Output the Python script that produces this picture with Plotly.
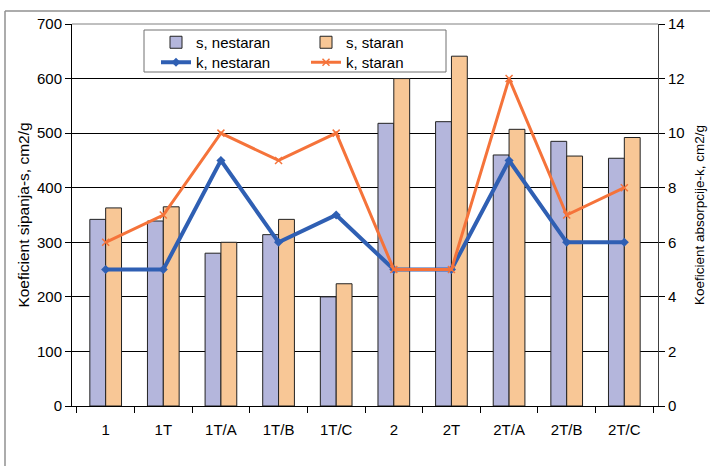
import plotly.graph_objects as go

categories = ["1", "1T", "1T/A", "1T/B", "1T/C", "2", "2T", "2T/A", "2T/B", "2T/C"]
s_nestaran = [342, 339, 280, 314, 200, 518, 521, 460, 485, 454]
s_staran = [363, 365, 300, 342, 224, 600, 641, 507, 458, 492]
k_nestaran = [5, 5, 9, 6, 7, 5, 5, 9, 6, 6]
k_staran = [6, 7, 10, 9, 10, 5, 5, 12, 7, 8]

FONT = "Liberation Sans, Arial, sans-serif"

fig = go.Figure()
fig.add_trace(go.Bar(x=categories, y=s_nestaran, name="s, nestaran",
                     marker=dict(color="#B4B6DC", line=dict(color="#222222", width=1)),
                     legend="legend"))
fig.add_trace(go.Bar(x=categories, y=s_staran, name="s, staran",
                     marker=dict(color="#F8C796", line=dict(color="#222222", width=1)),
                     legend="legend"))
fig.add_trace(go.Scatter(x=categories, y=k_nestaran, name="k, nestaran", yaxis="y2",
                         mode="lines+markers",
                         line=dict(color="#2F5FB3", width=4),
                         marker=dict(symbol="diamond", size=7, color="#2F5FB3"),
                         legend="legend2"))
fig.add_trace(go.Scatter(x=categories, y=k_staran, name="k, staran", yaxis="y2",
                         mode="lines+markers",
                         line=dict(color="#F5733A", width=3),
                         marker=dict(symbol="x-thin", size=7, color="#F5733A",
                                     line=dict(color="#F5733A", width=1.5)),
                         legend="legend2"))

plot_l, plot_r, plot_t, plot_b = 72, 658, 24, 406
W, H = 710, 466
pw, ph = plot_r - plot_l, plot_b - plot_t

def px(x):
    return (x - plot_l) / pw

def py(y):
    return (plot_b - y) / ph

shapes = [
    # outer frame
    dict(type="line", xref="paper", yref="paper", x0=px(5), x1=px(W + 5), y0=py(11), y1=py(11),
         line=dict(color="#909090", width=1.5)),
    dict(type="line", xref="paper", yref="paper", x0=px(5), x1=px(5), y0=py(11), y1=py(H + 5),
         line=dict(color="#909090", width=1.5)),
    # plot border top
    dict(type="line", xref="paper", yref="paper", x0=0, x1=1, y0=1, y1=1,
         line=dict(color="#808080", width=1)),
    # legend box
    dict(type="rect", xref="paper", yref="paper", x0=px(144), x1=px(446), y0=py(30), y1=py(72),
         line=dict(color="#707070", width=1), fillcolor="white", layer="above"),
]

fig.update_layout(
    width=W, height=H,
    margin=dict(l=plot_l, r=W - plot_r, t=plot_t, b=H - plot_b, autoexpand=False),
    paper_bgcolor="white", plot_bgcolor="white",
    font=dict(family=FONT, size=15, color="black"),
    barmode="group", bargap=0.45, bargroupgap=0,
    shapes=shapes,
    xaxis=dict(type="category", showline=True, linecolor="black", linewidth=1,
               ticks="outside", tickson="boundaries", ticklen=6, tickcolor="black",
               showgrid=False, ticklabelstandoff=10,
               tickfont=dict(size=15, family=FONT)),
    yaxis=dict(range=[0, 700], dtick=100, showline=True, linecolor="black", linewidth=1,
               ticks="outside", ticklen=6, tickcolor="black",
               gridcolor="black", gridwidth=1, zeroline=False,
               tickfont=dict(size=15, family=FONT),
               title=dict(text="Koeficient sipanja-s, cm2/g", font=dict(size=15.5, family=FONT),
                          standoff=3)),
    yaxis2=dict(range=[0, 14], dtick=2, overlaying="y", side="right",
                showline=True, linecolor="#404040", linewidth=1,
                ticks="outside", ticklen=6, tickcolor="black", showgrid=False, zeroline=False,
                tickfont=dict(size=15, family=FONT),
                title=dict(text="Koeficient absorpcije-k, cm2/g", font=dict(size=13.5, family=FONT),
                           standoff=10)),
    legend=dict(orientation="h", x=px(156), y=py(26), xanchor="left", yanchor="top",
                entrywidth=105, bgcolor="rgba(0,0,0,0)", borderwidth=0,
                font=dict(size=15, family=FONT), itemwidth=30, traceorder="normal"),
    legend2=dict(orientation="h", x=px(156), y=py(46), xanchor="left", yanchor="top",
                 entrywidth=105, bgcolor="rgba(0,0,0,0)", borderwidth=0,
                 font=dict(size=15, family=FONT), itemwidth=30, traceorder="normal"),
)

fig.write_html("out.html", config={"displayModeBar": False},
               post_script="document.body.style.margin='0px';")
